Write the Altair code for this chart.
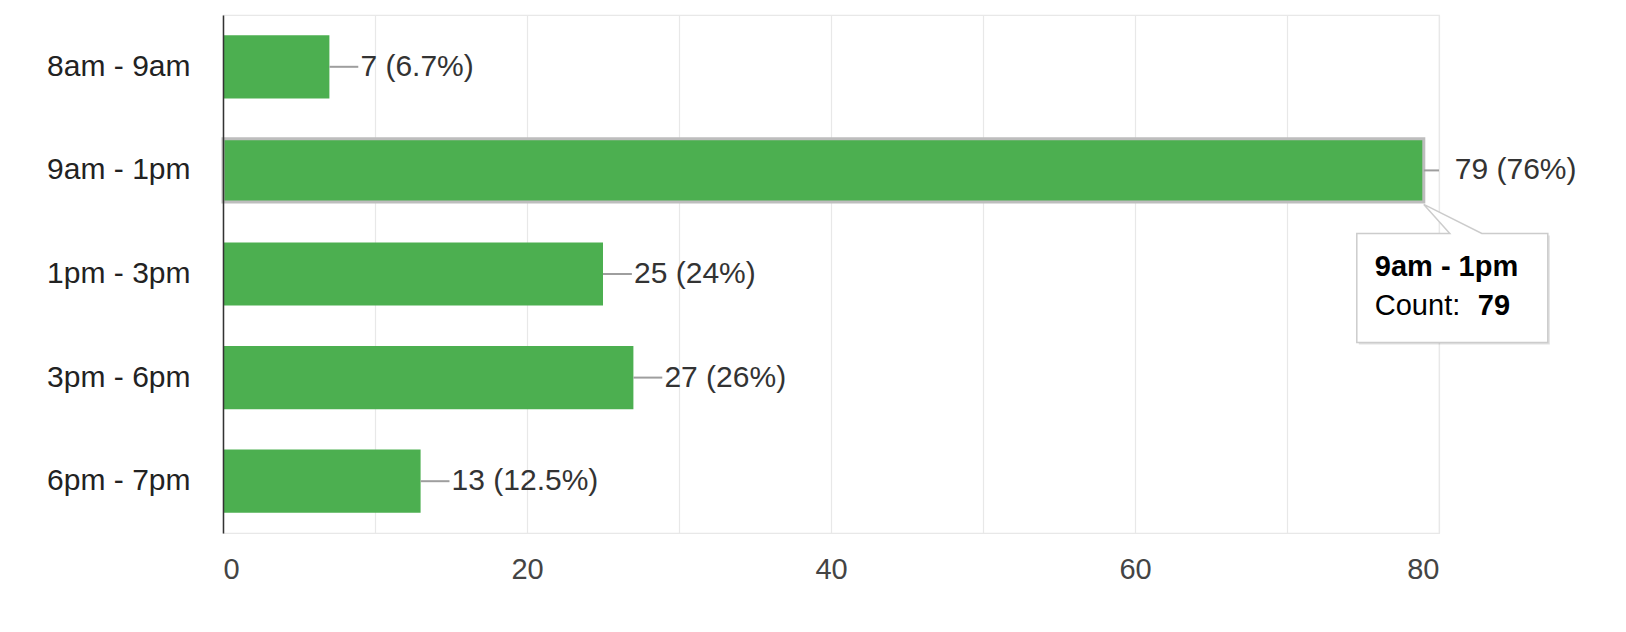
import altair as alt
import pandas as pd

categories = ["8am - 9am", "9am - 1pm", "1pm - 3pm", "3pm - 6pm", "6pm - 7pm"]
counts = [7, 79, 25, 27, 13]
percents = ["6.7%", "76%", "24%", "26%", "12.5%"]
x_ticks = [0, 10, 20, 30, 40, 50, 60, 70, 80]
highlight = "9am - 1pm"
tooltip_count_label = "Count:"

FONT = "Liberation Sans"
GREEN = "#4caf50"

df = pd.DataFrame({"cat": categories, "count": counts, "pct": percents})
df["label"] = [f"{c} ({p})" for c, p in zip(counts, percents)]
df["lead_end"] = [min(c + 1.9, x_ticks[-1]) for c in counts]
df["hl"] = [c == highlight for c in categories]

tip = df[df["cat"] == highlight].copy()
tip["count_label"] = tooltip_count_label
tip["count_str"] = tip["count"].astype(str)

y_enc = alt.Y(
    "cat:N",
    sort=categories,
    title=None,
    scale=alt.Scale(paddingInner=0.39, paddingOuter=0.195),
    axis=alt.Axis(
        ticks=False,
        labelPadding=33,
        labelFont=FONT,
        labelFontSize=30,
        labelColor="#222222",
        domainColor="#333333",
        domainWidth=1.5,
        grid=False,
        zindex=1,
    ),
)
x_enc = alt.X(
    "count:Q",
    title=None,
    scale=alt.Scale(domain=[x_ticks[0], x_ticks[-1]], nice=False),
    axis=alt.Axis(
        values=x_ticks,
        labelExpr="datum.value % 20 == 0 ? datum.label : ''",
        ticks=False,
        domain=False,
        grid=True,
        gridColor="#e8e8e8",
        gridWidth=1.2,
        labelPadding=22,
        labelFont=FONT,
        labelFontSize=29,
        labelColor="#444444",
    ),
)

base = alt.Chart(df)

bars = base.mark_bar(color=GREEN, stroke="#bdbdbd").encode(
    x=x_enc,
    y=y_enc,
    strokeWidth=alt.condition("datum.hl", alt.value(3), alt.value(0)),
)

leaders = base.mark_rule(color="#9e9e9e", strokeWidth=2).encode(
    x="count:Q", x2="lead_end:Q", y=alt.Y("cat:N", sort=categories)
)

labels = base.mark_text(
    align="left", baseline="middle", dx=31, font=FONT, fontSize=30, color="#333333"
).encode(x="count:Q", y=alt.Y("cat:N", sort=categories), text="label:N")

tip_path = "M -67 63 L 26 63 L 0 34 L 58 63 L 124 63 L 124 172 L -67 172 Z"
shadow_path = "M -65 65 L 28 65 L 2 36 L 60 65 L 126 65 L 126 174 L -65 174 Z"

tip_base = alt.Chart(tip)
tip_shadow = tip_base.mark_point(
    shape=shadow_path, size=4, filled=True, fill="#000000", opacity=0.12, strokeWidth=0
).encode(x="count:Q", y=alt.Y("cat:N", sort=categories))
tip_box = tip_base.mark_point(
    shape=tip_path, size=4, filled=True, fill="#ffffff", stroke="#cccccc",
    strokeWidth=1.5, opacity=1
).encode(x="count:Q", y=alt.Y("cat:N", sort=categories))
tip_title = tip_base.mark_text(
    align="left", baseline="alphabetic", dx=-49, dy=106, font=FONT, fontSize=29,
    fontWeight="bold", color="#000000"
).encode(x="count:Q", y=alt.Y("cat:N", sort=categories), text="cat:N")
tip_count_lbl = tip_base.mark_text(
    align="left", baseline="alphabetic", dx=-49, dy=145, font=FONT, fontSize=29,
    color="#000000"
).encode(x="count:Q", y=alt.Y("cat:N", sort=categories), text="count_label:N")
tip_count_val = tip_base.mark_text(
    align="left", baseline="alphabetic", dx=54, dy=145, font=FONT, fontSize=29,
    fontWeight="bold", color="#000000"
).encode(x="count:Q", y=alt.Y("cat:N", sort=categories), text="count_str:N")

chart = alt.layer(
    bars, leaders, labels, tip_shadow, tip_box, tip_title, tip_count_lbl, tip_count_val
).properties(
    width=1216,
    height=518,
    padding={"left": 215, "top": 7, "right": 170, "bottom": 80},
    autosize=alt.AutoSizeParams(type="none"),
).configure_view(stroke="#e8e8e8", strokeWidth=1.2)

chart.save("out.html", embed_options={"renderer": "svg", "actions": False})
